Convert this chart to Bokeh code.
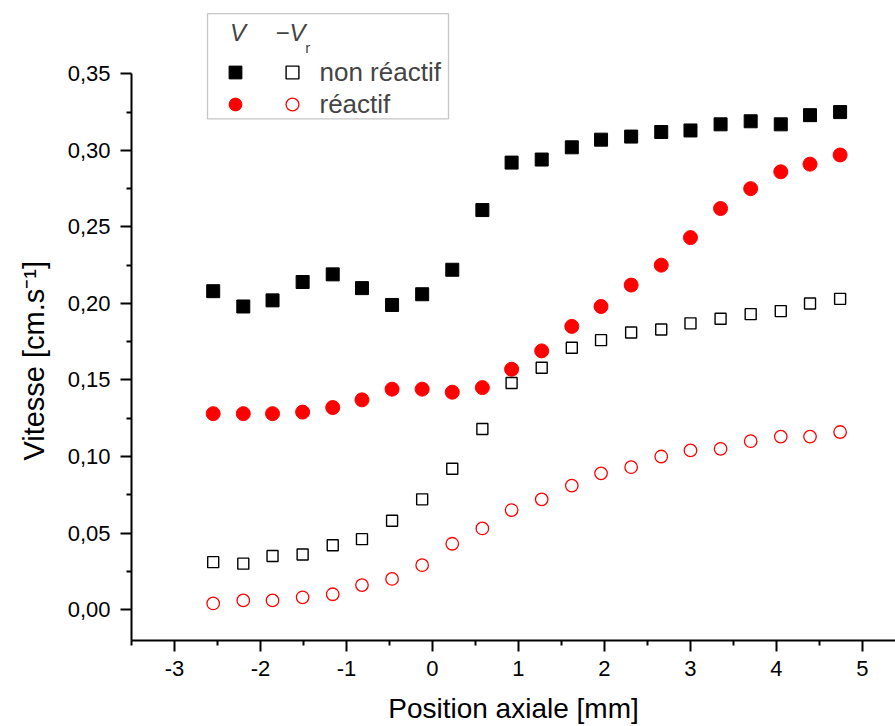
from bokeh.plotting import figure
from bokeh.models import (FixedTicker, CustomJSTickFormatter, Range1d, Legend, LegendItem,
                          BoxAnnotation, Label)
from bokeh.embed import file_html
from bokeh.resources import INLINE

# ---------------- data ----------------
position_mm = [-2.55, -2.20, -1.86, -1.51, -1.16, -0.82, -0.47, -0.12, 0.23, 0.58, 0.92,
               1.27, 1.62, 1.96, 2.31, 2.66, 3.00, 3.35, 3.70, 4.05, 4.39, 4.74]

v_non_reactif = [0.208, 0.198, 0.202, 0.214, 0.219, 0.210, 0.199, 0.206, 0.222, 0.261, 0.292,
                 0.294, 0.302, 0.307, 0.309, 0.312, 0.313, 0.317, 0.319, 0.317, 0.323, 0.325]
v_reactif = [0.128, 0.128, 0.128, 0.129, 0.132, 0.137, 0.144, 0.144, 0.142, 0.145, 0.157,
             0.169, 0.185, 0.198, 0.212, 0.225, 0.243, 0.262, 0.275, 0.286, 0.291, 0.297]
vr_non_reactif = [0.031, 0.030, 0.035, 0.036, 0.042, 0.046, 0.058, 0.072, 0.092, 0.118, 0.148,
                  0.158, 0.171, 0.176, 0.181, 0.183, 0.187, 0.190, 0.193, 0.195, 0.200, 0.203]
vr_reactif = [0.004, 0.006, 0.006, 0.008, 0.010, 0.016, 0.020, 0.029, 0.043, 0.053, 0.065,
              0.072, 0.081, 0.089, 0.093, 0.100, 0.104, 0.105, 0.110, 0.113, 0.113, 0.116]

labels_series = ["non réactif", "réactif"]
x_ticks = [-3, -2, -1, 0, 1, 2, 3, 4, 5]
x_minor = [-3.5, -2.5, -1.5, -0.5, 0.5, 1.5, 2.5, 3.5, 4.5]
y_ticks = [0.0, 0.05, 0.10, 0.15, 0.20, 0.25, 0.30, 0.35]
y_minor = [0.025, 0.075, 0.125, 0.175, 0.225, 0.275, 0.325]

# ---------------- figure ----------------
Y0, Y1 = -0.0202, 0.3979
p = figure(width=895, height=726, output_backend="svg", toolbar_location=None,
           x_range=Range1d(-3.5, 5.384), y_range=Range1d(Y0, Y1),
           min_border_left=131, min_border_right=0, min_border_top=0, min_border_bottom=86)
p.outline_line_color = None
p.xgrid.visible = False
p.ygrid.visible = False
p.background_fill_color = "white"

FONT = "Liberation Sans"

r_v_nr = p.scatter(position_mm, v_non_reactif, marker="square", size=13,
                   fill_color="black", line_color="black")
r_v_r = p.scatter(position_mm, v_reactif, marker="circle", size=14,
                  fill_color="#ff0000", line_color="#ff0000")
r_vr_nr = p.scatter(position_mm, vr_non_reactif, marker="square", size=11,
                    fill_color=None, line_color="black", line_width=1.4)
r_vr_r = p.scatter(position_mm, vr_reactif, marker="circle", size=12.5,
                   fill_color=None, line_color="#ff0000", line_width=1.3)

# axes
for ax in (p.xaxis[0], p.yaxis[0]):
    ax.axis_line_width = 2
    ax.major_tick_line_width = 2
    ax.minor_tick_line_width = 2
    ax.major_tick_out = 11
    ax.major_tick_in = 0
    ax.minor_tick_out = 5
    ax.minor_tick_in = 0
    ax.major_label_text_font = FONT
    ax.major_label_text_font_size = "22px"
    ax.major_label_text_color = "black"
    ax.axis_label_text_font = FONT
    ax.axis_label_text_font_style = "normal"
    ax.axis_label_text_color = "black"

p.xaxis.axis_label_text_font_size = "28px"
p.yaxis.axis_label_text_font_size = "29px"
p.xaxis.axis_label_text_line_height = 0.5
p.xaxis.ticker = FixedTicker(ticks=x_ticks, minor_ticks=x_minor)
p.yaxis.ticker = FixedTicker(ticks=y_ticks, minor_ticks=y_minor)
p.xaxis.formatter = CustomJSTickFormatter(code="return tick.toString();")
p.yaxis.formatter = CustomJSTickFormatter(code="return tick.toFixed(2).replace('.', ',');")
p.yaxis.bounds = (Y0, 0.35)
p.xaxis.axis_label = "Position axiale [mm]"
# trailing no-break spaces shift the centred title down to the middle of the drawn axis
p.yaxis.axis_label = "Vitesse [cm.s\u207b\u00b9]" + "\u00a0" * 10
p.xaxis.major_label_standoff = 9
p.yaxis.major_label_standoff = 10
p.xaxis.axis_label_standoff = 14
p.yaxis.axis_label_standoff = 15

# legend box + header
box = BoxAnnotation(left=-2.616, right=0.186, top=0.3893, bottom=0.3206,
                    fill_color=None, line_color="#404040", line_width=1.3)
p.add_layout(box)
p.add_layout(Label(x=-2.262, y=0.3767, text="V", text_font=FONT, text_font_size="24px",
                   text_font_style="italic", text_align="center", text_baseline="middle"))
p.add_layout(Label(x=-1.826, y=0.3767, text="\u2212V", text_font=FONT, text_font_size="24px",
                   text_font_style="italic", text_align="left", text_baseline="middle"))
p.add_layout(Label(x=-1.48, y=0.3675, text="r", text_font=FONT, text_font_size="15px",
                   text_align="left", text_baseline="middle"))

legA = Legend(items=[LegendItem(label=labels_series[0], renderers=[r_v_nr]),
                     LegendItem(label=labels_series[1], renderers=[r_v_r])],
              location=(87.5, 520), glyph_width=32, glyph_height=32, label_height=32,
              spacing=0, padding=0, margin=0, label_standoff=69,
              border_line_color=None, background_fill_alpha=0,
              label_text_font=FONT, label_text_font_size="26px")
legB = Legend(items=[LegendItem(label=" ", renderers=[r_vr_nr]),
                     LegendItem(label=" ", renderers=[r_vr_r])],
              location=(144.5, 520), glyph_width=32, glyph_height=32, label_height=32,
              spacing=0, padding=0, margin=0, label_standoff=0,
              border_line_color=None, background_fill_alpha=0,
              label_text_font=FONT, label_text_font_size="26px")
p.add_layout(legA)
p.add_layout(legB)

open("out.html", "w").write(file_html(p, INLINE))
